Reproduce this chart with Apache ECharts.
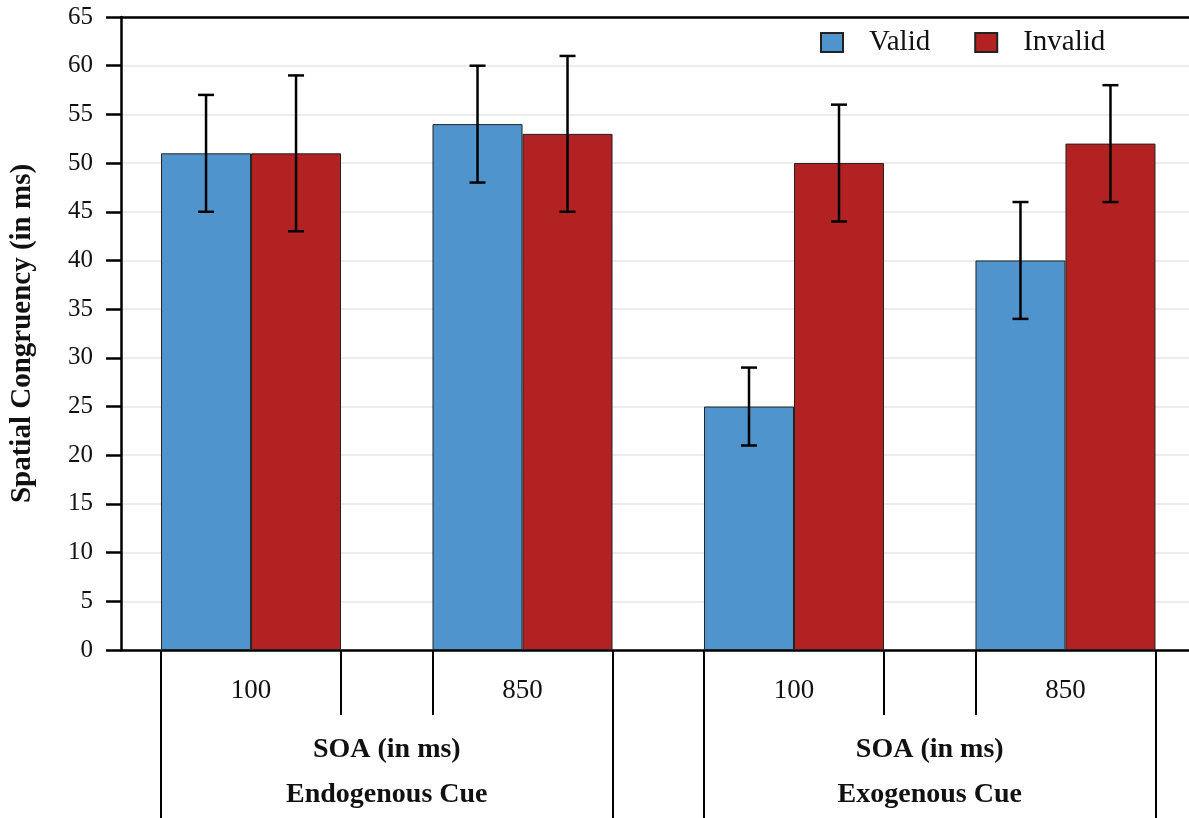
<!DOCTYPE html>
<html>
<head>
<meta charset="utf-8">
<script src="https://cdn.jsdelivr.net/npm/echarts@6/dist/echarts.min.js"></script>
<style>html,body{margin:0;padding:0;background:#fff}#c{width:1189px;height:818px}</style>
</head>
<body>
<div id="c"></div>
<script>
const groupPositions = [1, 2, 3, 4];
const soaLabels = ['100', '850', '100', '850'];
const factorPositions = [1.5, 3.5];
const factorLabels = ['SOA (in ms)', 'SOA (in ms)'];
const cuePositions = [1.5, 3.5];
const cueLabels = ['Endogenous Cue', 'Exogenous Cue'];
const seriesNames = ['Valid', 'Invalid'];
const validMeans = [51, 54, 25, 40];
const validLow = [45, 48, 21, 34];
const validHigh = [57, 60, 29, 46];
const invalidMeans = [51, 53, 50, 52];
const invalidLow = [43, 45, 44, 46];
const invalidHigh = [59, 61, 56, 58];
const yTicks = [0, 65, 5];

const HALF = 0.3315; // half of a bar-pair width in axis units
const shortSeparators = [1 + HALF, 2 - HALF, 3 + HALF, 4 - HALF];
const longSeparators = [1 - HALF, 2 + HALF, 3 - HALF, 4 + HALF];

const FONT = '"Liberation Serif", "Times New Roman", serif';
const XMIN = 0.521, XMAX = 4.455;

function labelMap(pos, labels) {
  return function (v) {
    for (let i = 0; i < pos.length; i++) if (Math.abs(pos[i] - v) < 1e-6) return labels[i];
    return '';
  };
}

const baseX = {
  type: 'value', min: XMIN, max: XMAX, position: 'bottom',
  splitLine: { show: false }, axisLine: { show: false }, axisTick: { show: false }, axisLabel: { show: false }
};

const chart = echarts.init(document.getElementById('c'));
function errSeries(name, pos, low, high, offset) {
  return {
    type: 'custom', name: name + ' err', xAxisIndex: 0, yAxisIndex: 0, silent: true, z: 5,
    data: pos.map((p, i) => [p, low[i], high[i]]),
    encode: { x: 0, y: [1, 2] },
    renderItem: function (params, api) {
      const lo = api.coord([api.value(0), api.value(1)]);
      const hi = api.coord([api.value(0), api.value(2)]);
      const x = lo[0] + offset, cap = 8;
      const st = { stroke: '#000', lineWidth: 2.5 };
      return { type: 'group', children: [
        { type: 'line', shape: { x1: x, y1: lo[1], x2: x, y2: hi[1] }, style: st },
        { type: 'line', shape: { x1: x - cap, y1: lo[1], x2: x + cap, y2: lo[1] }, style: st },
        { type: 'line', shape: { x1: x - cap, y1: hi[1], x2: x + cap, y2: hi[1] }, style: st }
      ] };
    }
  };
}

chart.setOption({
  animation: false,
  backgroundColor: '#fff',
  textStyle: { fontFamily: FONT },
  grid: { left: 121, right: 0, top: 17, bottom: 168 },
  legend: {
    left: 820, top: 28, padding: 0, itemWidth: 22, itemHeight: 19, itemGap: 44, icon: 'rect',
    data: seriesNames,
    textStyle: { fontFamily: FONT, fontSize: 29, color: '#111', padding: [0, 0, 0, 21] }
  },
  xAxis: [
    Object.assign({}, baseX, {
      axisLine: { show: true, onZero: false, lineStyle: { color: '#000', width: 2.5 } },
      axisTick: { show: true, customValues: shortSeparators, length: 65, lineStyle: { color: '#000', width: 2 } },
      axisLabel: { show: true, customValues: groupPositions, formatter: labelMap(groupPositions, soaLabels),
        margin: 27, fontFamily: FONT, fontSize: 27, color: '#111' }
    }),
    Object.assign({}, baseX, {
      axisTick: { show: true, customValues: longSeparators, length: 175, lineStyle: { color: '#000', width: 2 } },
      axisLabel: { show: true, customValues: factorPositions, formatter: labelMap(factorPositions, factorLabels),
        margin: 86, fontFamily: FONT, fontSize: 28, fontWeight: 'bold', color: '#111' }
    }),
    Object.assign({}, baseX, {
      axisLabel: { show: true, customValues: cuePositions, formatter: labelMap(cuePositions, cueLabels),
        margin: 131, fontFamily: FONT, fontSize: 28, fontWeight: 'bold', color: '#111' }
    }),
    Object.assign({}, baseX, {
      position: 'top',
      axisLine: { show: true, onZero: false, lineStyle: { color: '#000', width: 2.5 } }
    })
  ],
  yAxis: {
    type: 'value', min: yTicks[0], max: yTicks[1], interval: yTicks[2],
    name: 'Spatial Congruency (in ms)', nameLocation: 'middle', nameGap: 84,
    nameTextStyle: { fontFamily: FONT, fontSize: 29, fontWeight: 'bold', color: '#111' },
    axisLine: { show: true, lineStyle: { color: '#000', width: 2.5 } },
    axisTick: { show: true, length: 15, lineStyle: { color: '#000', width: 2.5 } },
    axisLabel: { margin: 28, fontFamily: FONT, fontSize: 25, color: '#111' },
    splitLine: { show: true, lineStyle: { color: '#e8e6e8', width: 1.5 } }
  },
  series: [
    { type: 'bar', name: seriesNames[0], xAxisIndex: 0, barWidth: 90, barGap: '0%',
      data: groupPositions.map((p, i) => [p, validMeans[i]]),
      itemStyle: { color: '#4F94CD', borderColor: '#222', borderWidth: 1 } },
    { type: 'bar', name: seriesNames[1], xAxisIndex: 0, barWidth: 90, barGap: '0%',
      data: groupPositions.map((p, i) => [p, invalidMeans[i]]),
      itemStyle: { color: '#B22222', borderColor: '#222', borderWidth: 1 } },
    errSeries(seriesNames[0], groupPositions, validLow, validHigh, -45),
    errSeries(seriesNames[1], groupPositions, invalidLow, invalidHigh, 45)
  ]
});
</script>
</body>
</html>
